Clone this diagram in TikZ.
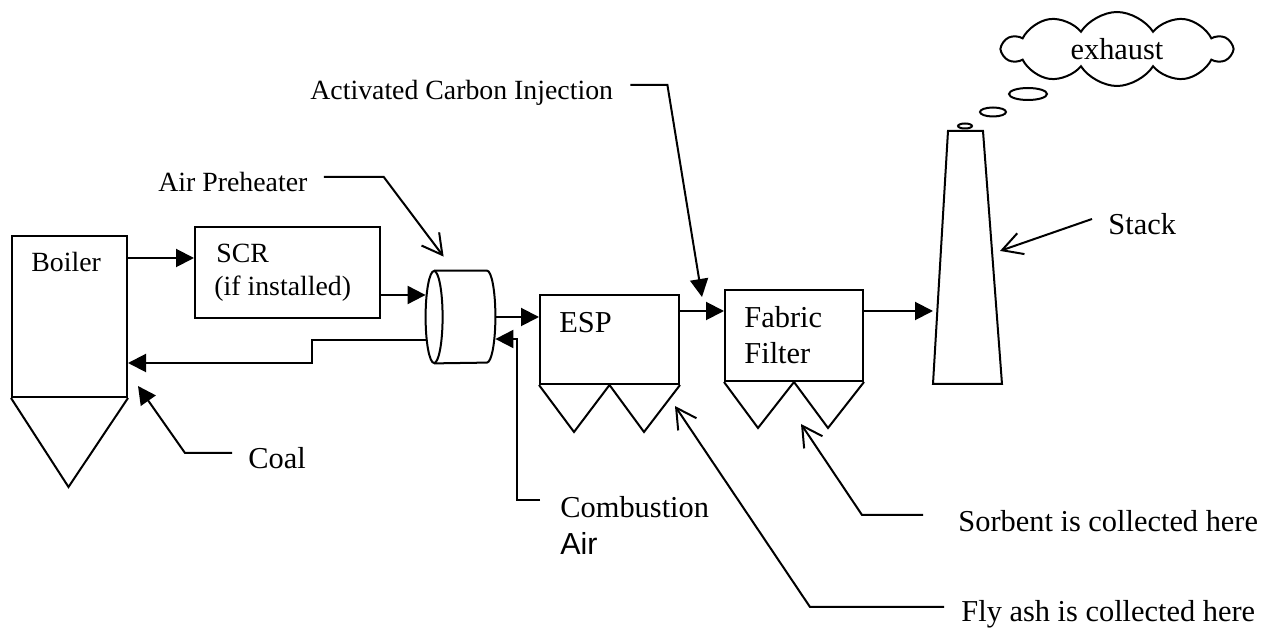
\documentclass[tikz,border=0pt]{standalone}
\usepackage{fontspec}
\setmainfont{Liberation Serif}
\newfontfamily\sansair{Liberation Sans}
\usepackage{tikz}
\usetikzlibrary{shapes.geometric, shapes.symbols, arrows.meta, positioning, calc}

\begin{document}
\begin{tikzpicture}[
    x=0.5pt, y=-0.5pt,
    unit/.style={rectangle, draw=black, line width=1pt, inner sep=0pt},
    lbl/.style={inner sep=0pt, font=\fontsize{13.9}{16}\selectfont},
    lblb/.style={inner sep=0pt, font=\fontsize{15.2}{18}\selectfont},
    puff/.style={ellipse, draw=black, line width=1pt, inner sep=0pt},
    pipe/.style={line width=1pt},
    arr/.style={-{Triangle[length=9pt, width=9pt]}, line width=1pt},
    barb/.style={-{Straight Barb[length=10pt, width=11pt]}, line width=1pt}
]
\useasboundingbox (0,0) rectangle (1271,630);

% Process units
\node[unit, minimum width=57.5pt, minimum height=80.5pt] (boiler) at (69.5,316.5) {};
\node[unit, minimum width=92.5pt, minimum height=45.5pt] (scr) at (287.5,272.5) {};
\node[rectangle, inner sep=0pt, minimum width=34.5pt, minimum height=46pt] (aph) at (460.5,317) {};
\node[unit, minimum width=69.5pt, minimum height=44.5pt] (esp) at (609.5,339.5) {};
\node[unit, minimum width=69pt, minimum height=45.5pt] (ff) at (794,335.5) {};

% Stack
\coordinate (stackbl) at (933,384);
\coordinate (stackbr) at (1002,384);
\coordinate (stacktl) at (948,131);
\coordinate (stacktr) at (983,131);
\draw[pipe] (stackbl) -- (stacktl) -- (stacktr) -- (stackbr) -- cycle;

% Hoppers
\draw[pipe] (boiler.south west) -- ++(57.5,89) -- (boiler.south east);
\draw[pipe] (esp.south west) -- ++(35,47) -- (esp.south) -- ++(34.5,47) -- (esp.south east);
\draw[pipe] (ff.south west) -- ++(34,46) -- (ff.south) -- ++(34,46) -- (ff.south east);

% Air preheater drum
\draw[pipe] ($(aph.north west)+(8.5,0)$) -- ($(aph.north east)+(-8.5,0)$)
    arc[start angle=-90, end angle=90, x radius=8.5, y radius=46] -- ($(aph.south west)+(8.5,0)$);
\draw[pipe] ($(aph.west)+(8.5,0)$) ellipse [x radius=8.5, y radius=46];

% Unit texts
\node[lbl, anchor=base west] (boilertxt) at ($(boiler.north west)+(20,37)$) {Boiler};
\node[lbl, anchor=base west] (scrtxt) at ($(scr.north west)+(22,37)$) {SCR};
\node[lbl, anchor=base west] (scrnote) at ($(scr.north west)+(20,70)$) {(if installed)};
\node[lblb, anchor=base west] (esptxt) at ($(esp.north west)+(20,39)$) {ESP};
\node[lblb, anchor=base west] (fftxt) at ($(ff.north west)+(20,39)$) {Fabric};
\node[lblb, anchor=base west] (ffnote) at ($(ff.north west)+(20,75)$) {Filter};

% Exhaust cloud
\node[cloud, draw, line width=1pt, cloud puffs=10, cloud puff arc=115, aspect=3.1,
      minimum width=114pt, minimum height=37pt, lblb] (cloud) at (1117,49) {exhaust};
\node[puff, minimum width=19pt, minimum height=6pt] (puffa) at (1028,94) {};
\node[puff, minimum width=13pt, minimum height=4.5pt] (puffb) at (993,112) {};
\node[puff, minimum width=7pt, minimum height=2.5pt] (puffc) at (965,126) {};

% Gas path
\draw[arr] ($(boiler.north east)+(0,23)$) -- ($(scr.west |- boiler.north east)+(0,23)$);
\draw[arr] ($(scr.south east)+(0,-24)$) -- ($(aph.west |- scr.south east)+(0,-24)$);
\draw[arr] ($(aph.west)+(0,23)$) -- ++(-114,0) |- ($(boiler.south east)+(0,-35)$);
\draw[arr] (aph.east) -- (esp.west |- aph.east);
\draw[arr] ($(esp.north east)+(0,17)$) -- ($(ff.west |- esp.north east)+(0,17)$);
\draw[arr] ($(ff.north east)+(0,22)$) -- ($(stackbl |- ff.north east)+(0,22)$);

% Callouts
\node[lbl, anchor=base west] (aphtxt) at (158,192) {Air Preheater};
\draw[barb] ([shift={(16,-15)}]aphtxt.base east) -- ++(60,0) -- ([shift={(18,-14)}]aph.north west);

\node[lbl, anchor=base west] (acitxt) at (310,100) {Activated Carbon Injection};
\draw[arr] ([shift={(17,-15)}]acitxt.base east) -- ++(37,0) -- ([shift={(-22,8)}]ff.north west);

\node[lblb, anchor=base west] (stacktxt) at (1108,235) {Stack};
\draw[barb] ([shift={(-16,-16)}]stacktxt.base west) -- ($(stacktr)!0.474!(stackbr)+(8,0)$);

\node[lblb, anchor=base west] (coaltxt) at (248,469) {Coal};
\draw[arr] ([shift={(-16,-16)}]coaltxt.base west) -- ++(-47,0) -- ([shift={(10,-12)}]boiler.south east);

\node[lblb, anchor=base west] (combtxt) at (560,518) {Combustion};
\node[lblb, anchor=base west, font=\sansair\fontsize{15.2}{18}\selectfont] (airtxt) at ($(combtxt.base west)+(0,37)$) {Air};
\draw[arr] ([shift={(-20,-18)}]combtxt.base west) -- ++(-23,0) |- ($(aph.east)+(0,22)$);

\node[lblb, anchor=base west] (sorbtxt) at (958,532) {Sorbent is collected here};
\draw[barb] ([shift={(-35,-17)}]sorbtxt.base west) -- ++(-61,0) -- ([shift={(7,42)}]ff.south);

\node[lblb, anchor=base west] (flytxt) at (961,622) {Fly ash is collected here};
\draw[barb] ([shift={(-17,-15)}]flytxt.base west) -- ++(-134,0) -- ([shift={(-5,21)}]esp.south east);

\end{tikzpicture}
\end{document}
